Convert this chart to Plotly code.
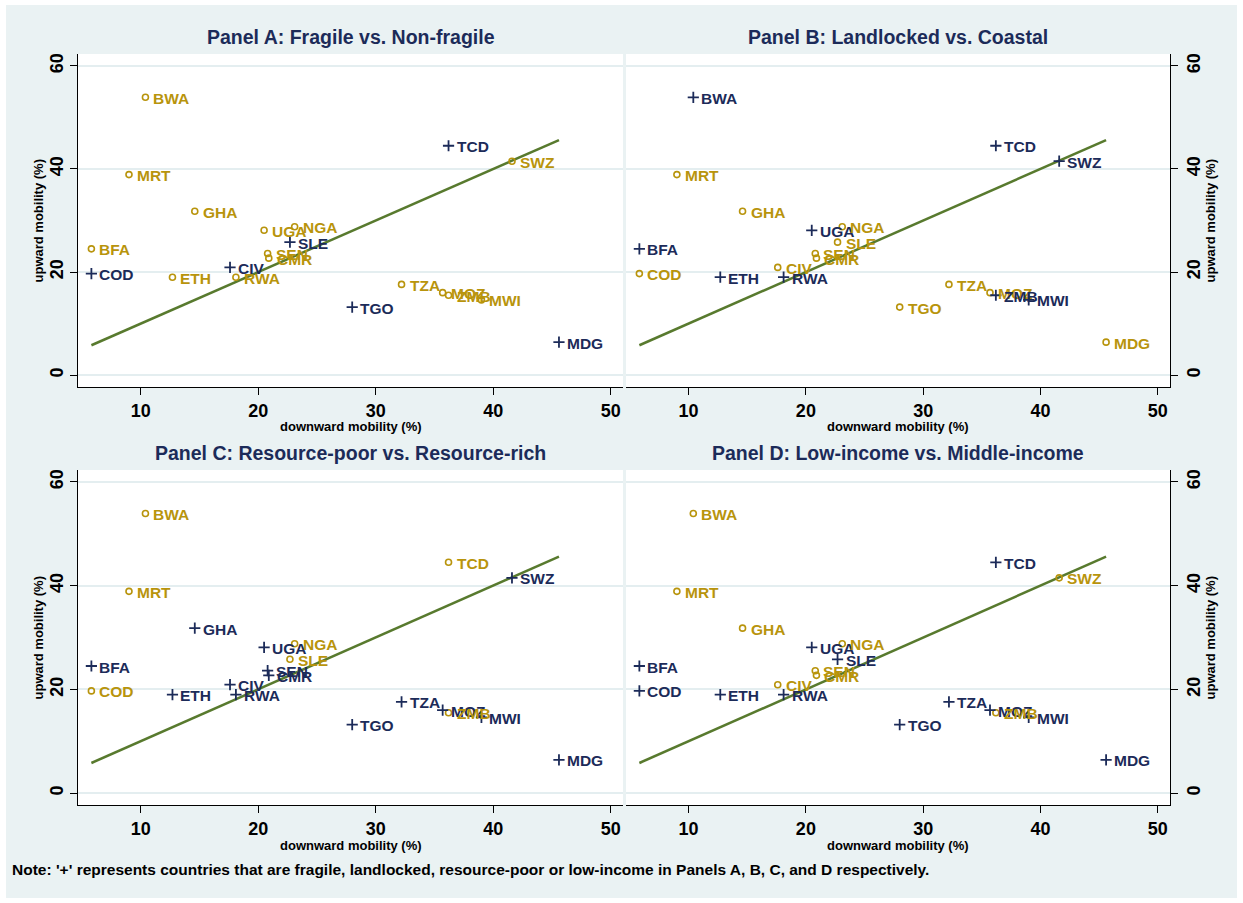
import plotly.graph_objects as go

# ---------------- data ----------------
countries = ["BWA", "MRT", "GHA", "UGA", "NGA", "SLE", "SEN", "CMR", "BFA", "COD", "ETH",
             "CIV", "RWA", "TCD", "SWZ", "TZA", "MOZ", "ZMB", "MWI", "TGO", "MDG"]
downward = [10.4, 9.0, 14.6, 20.5, 23.1, 22.7, 20.8, 20.9, 5.8, 5.8, 12.7,
            17.6, 18.1, 36.2, 41.6, 32.2, 35.7, 36.2, 39.0, 28.0, 45.6]
upward = [53.9, 38.9, 31.8, 28.1, 28.8, 25.8, 23.6, 22.7, 24.5, 19.7, 19.0,
          20.9, 19.0, 44.5, 41.5, 17.6, 16.0, 15.5, 14.6, 13.2, 6.4]

fragile = ["SLE", "COD", "CIV", "TCD", "TGO", "MDG"]
landlocked = ["BWA", "UGA", "BFA", "ETH", "RWA", "TCD", "SWZ", "ZMB", "MWI"]
resource_poor = ["GHA", "UGA", "SEN", "CMR", "BFA", "ETH", "CIV", "RWA", "SWZ", "TZA",
                 "MOZ", "MWI", "TGO", "MDG"]
low_income = ["UGA", "SLE", "BFA", "COD", "ETH", "RWA", "TCD", "TZA", "MOZ", "MWI",
              "TGO", "MDG"]

panel_titles = ["Panel A: Fragile vs. Non-fragile", "Panel B: Landlocked vs. Coastal",
                "Panel C: Resource-poor vs. Resource-rich", "Panel D: Low-income vs. Middle-income"]
panel_groups = [fragile, landlocked, resource_poor, low_income]

x_ticks = [10, 20, 30, 40, 50]
y_ticks = [0, 20, 40, 60]
x_title = "downward mobility (%)"
y_title = "upward mobility (%)"
note = ("Note: '+' represents countries that are fragile, landlocked, resource-poor or "
        "low-income in Panels A, B, C, and D respectively.")

# ---------------- style ----------------
W, H = 1243, 903
NAVY = "#1c2b59"
GOLD = "#b8940c"
GREEN = "#587a2e"
BG = "#eaf2f3"
GRID = "#e4eef0"
FONT = "Arial, Liberation Sans, sans-serif"

# plot regions in pixels: (left, right, top, bottom)
regions = [(78, 623, 54, 387), (626, 1170, 54, 387),
           (78, 623, 470, 805), (626, 1170, 470, 805)]
xr = [4.66, 51.05]
yr = [-2.3, 62.3]


def px(xp):
    return xp / W


def py(yp):
    return 1 - yp / H


def fnt(size, color="black"):
    return dict(family=FONT, size=size, color=color, weight="bold")


fig = go.Figure()
annotations = []
shapes = [dict(type="rect", xref="paper", yref="paper", x0=px(6), x1=px(1237),
               y0=py(898), y1=py(5), fillcolor=BG, line=dict(width=0), layer="below")]

line_x = [min(downward), max(downward)]
line_y = [min(downward), max(downward)]

for i, (title, group) in enumerate(zip(panel_titles, panel_groups)):
    n = "" if i == 0 else str(i + 1)
    xa, ya = "x" + n, "y" + n
    l, r, t, b = regions[i]
    right_side = i in (1, 3)

    shapes.append(dict(type="rect", xref="paper", yref="paper", x0=px(l), x1=px(r),
                       y0=py(b), y1=py(t), fillcolor="white", line=dict(width=0),
                       layer="below"))

    fig.add_trace(go.Scatter(x=line_x, y=line_y, mode="lines", xaxis=xa, yaxis=ya,
                             line=dict(color=GREEN, width=2.5), showlegend=False,
                             hoverinfo="skip"))

    px_x = [d for c, d in zip(countries, downward) if c in group]
    px_y = [u for c, u in zip(countries, upward) if c in group]
    o_x = [d for c, d in zip(countries, downward) if c not in group]
    o_y = [u for c, u in zip(countries, upward) if c not in group]

    fig.add_trace(go.Scatter(x=o_x, y=o_y, mode="markers", xaxis=xa, yaxis=ya,
                             marker=dict(symbol="circle-open", size=6, color=GOLD,
                                         line=dict(width=1.6, color=GOLD)),
                             showlegend=False))
    fig.add_trace(go.Scatter(x=px_x, y=px_y, mode="markers", xaxis=xa, yaxis=ya,
                             marker=dict(symbol="cross-thin-open", size=8, color=NAVY,
                                         line=dict(width=1.8, color=NAVY)),
                             showlegend=False))

    for c, d, u in zip(countries, downward, upward):
        col = NAVY if c in group else GOLD
        annotations.append(dict(x=d, y=u, xref=xa, yref=ya, text=c, showarrow=False,
                                xanchor="left", yanchor="middle", xshift=6, yshift=-1,
                                font=fnt(15.5, col)))

    xaxis = dict(domain=[px(l), px(r)], range=xr, anchor=ya, tickvals=x_ticks,
                 ticks="outside", ticklen=7, tickwidth=1.3, tickcolor="black",
                 showline=True, linecolor="black", linewidth=1.3, showgrid=False,
                 zeroline=False, tickfont=fnt(18))
    yaxis = dict(domain=[py(b), py(t)], range=yr, anchor=xa, tickvals=y_ticks,
                 side="right" if right_side else "left", tickangle=-90,
                 ticks="outside", ticklen=7, tickwidth=1.3, tickcolor="black",
                 showline=True, linecolor="black", linewidth=1.3, showgrid=True,
                 gridcolor=GRID, gridwidth=2, zeroline=False,
                 tickfont=fnt(18))
    fig.update_layout(**{"xaxis" + n: xaxis, "yaxis" + n: yaxis})

    cx = (l + r) / 2
    annotations.append(dict(x=px(cx), y=py(t - 17), xref="paper", yref="paper",
                            text=title, showarrow=False, xanchor="center",
                            yanchor="middle", font=fnt(19.5, NAVY)))
    annotations.append(dict(x=px(cx), y=py(b + 40), xref="paper", yref="paper",
                            text=x_title, showarrow=False, xanchor="center",
                            yanchor="middle", font=fnt(13)))
    ty = px(1210) if right_side else px(38)
    annotations.append(dict(x=ty, y=py((t + b) / 2), xref="paper", yref="paper",
                            text=y_title, showarrow=False, textangle=-90,
                            xanchor="center", yanchor="middle", font=fnt(13)))

annotations.append(dict(x=px(10), y=py(869), xref="paper", yref="paper", text=note,
                        showarrow=False, xanchor="left", yanchor="middle",
                        font=fnt(15.5)))

fig.update_layout(width=W, height=H, margin=dict(l=0, r=0, t=0, b=0),
                  paper_bgcolor="white", plot_bgcolor="rgba(0,0,0,0)",
                  shapes=shapes, annotations=annotations, showlegend=False,
                  font=dict(family=FONT))

fig.write_html("out.html", config={"displayModeBar": False},
               post_script="document.body.style.margin='0';document.body.style.padding='0';")
